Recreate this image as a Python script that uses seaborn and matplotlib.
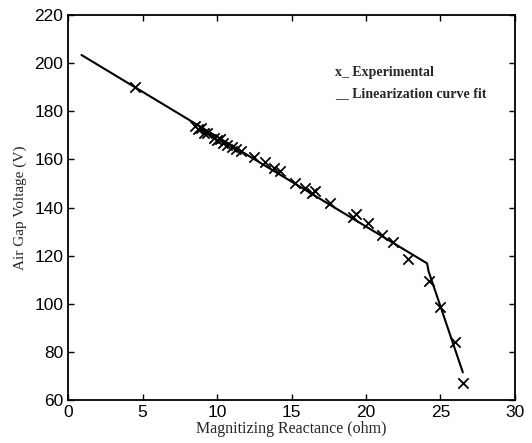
import numpy as np
import pandas as pd
import matplotlib
matplotlib.use("Agg")
import matplotlib.pyplot as plt
import seaborn as sns

# Experimental points: magnetizing reactance (ohm) vs air-gap voltage (V)
reactance_exp = [4.5, 8.5, 8.7, 8.9, 9.1, 9.3, 9.8, 10.0, 10.2, 10.4, 10.7, 11.0,
                 11.3, 11.6, 12.5, 13.2, 13.8, 14.2, 15.2, 15.9, 16.4, 16.6, 17.6,
                 19.1, 19.3, 20.1, 21.1, 21.8, 22.8, 24.2, 25.0, 26.0, 26.5]
voltage_exp = [190, 174, 172.5, 173, 171, 171, 169, 168, 168.5, 167, 166, 165,
               164.5, 163.5, 161, 159, 156.5, 155, 150, 148, 146, 147, 142,
               136, 137.5, 133.5, 128.5, 125.5, 118.5, 109.5, 98.5, 84, 67]

# Piecewise-linear fit
reactance_fit = [0.9, 24.1, 24.2, 26.5]
voltage_fit = [203.4, 116.8, 113.5, 71.5]

x_ticks = [0, 5, 10, 15, 20, 25, 30]
y_ticks = [60, 80, 100, 120, 140, 160, 180, 200, 220]

exp_df = pd.DataFrame({"X": reactance_exp, "V": voltage_exp})
fit_df = pd.DataFrame({"X": reactance_fit, "V": voltage_fit})

sns.set_style("ticks")
plt.rcParams["font.family"] = ["Liberation Sans", "DejaVu Sans"]

fig = plt.figure(figsize=(5.32, 4.43), dpi=100)
ax = fig.add_axes([0.128, 0.097, 0.840, 0.869])

sns.lineplot(data=fit_df, x="X", y="V", ax=ax, color="black", linewidth=1.5,
             sort=False, estimator=None)
sns.scatterplot(data=exp_df, x="X", y="V", ax=ax, marker="x", s=55,
                color="black", linewidth=1.3)

ax.set_xlim(0, 30)
ax.set_ylim(60, 220)
ax.set_xticks(x_ticks)
ax.set_yticks(y_ticks)
ax.tick_params(direction="in", top=True, right=True, length=4, width=1,
               labelsize=12.5, colors="black")
for side in ax.spines.values():
    side.set_linewidth(1.3)
    side.set_color("black")

ax.set_xlabel("Magnitizing Reactance (ohm)", family=["Liberation Serif"],
              fontsize=11.5, labelpad=1)
ax.set_ylabel("Air Gap Voltage (V)", family=["Liberation Serif"],
              fontsize=11, labelpad=5)

ax.text(17.9, 196, "x_ Experimental", family=["Liberation Serif"],
        fontweight="bold", fontsize=10, va="center")
ax.text(17.9, 187.5, "__ Linearization curve fit", family=["Liberation Serif"],
        fontweight="bold", fontsize=10, va="center")

fig.savefig("out.png", dpi=100)
